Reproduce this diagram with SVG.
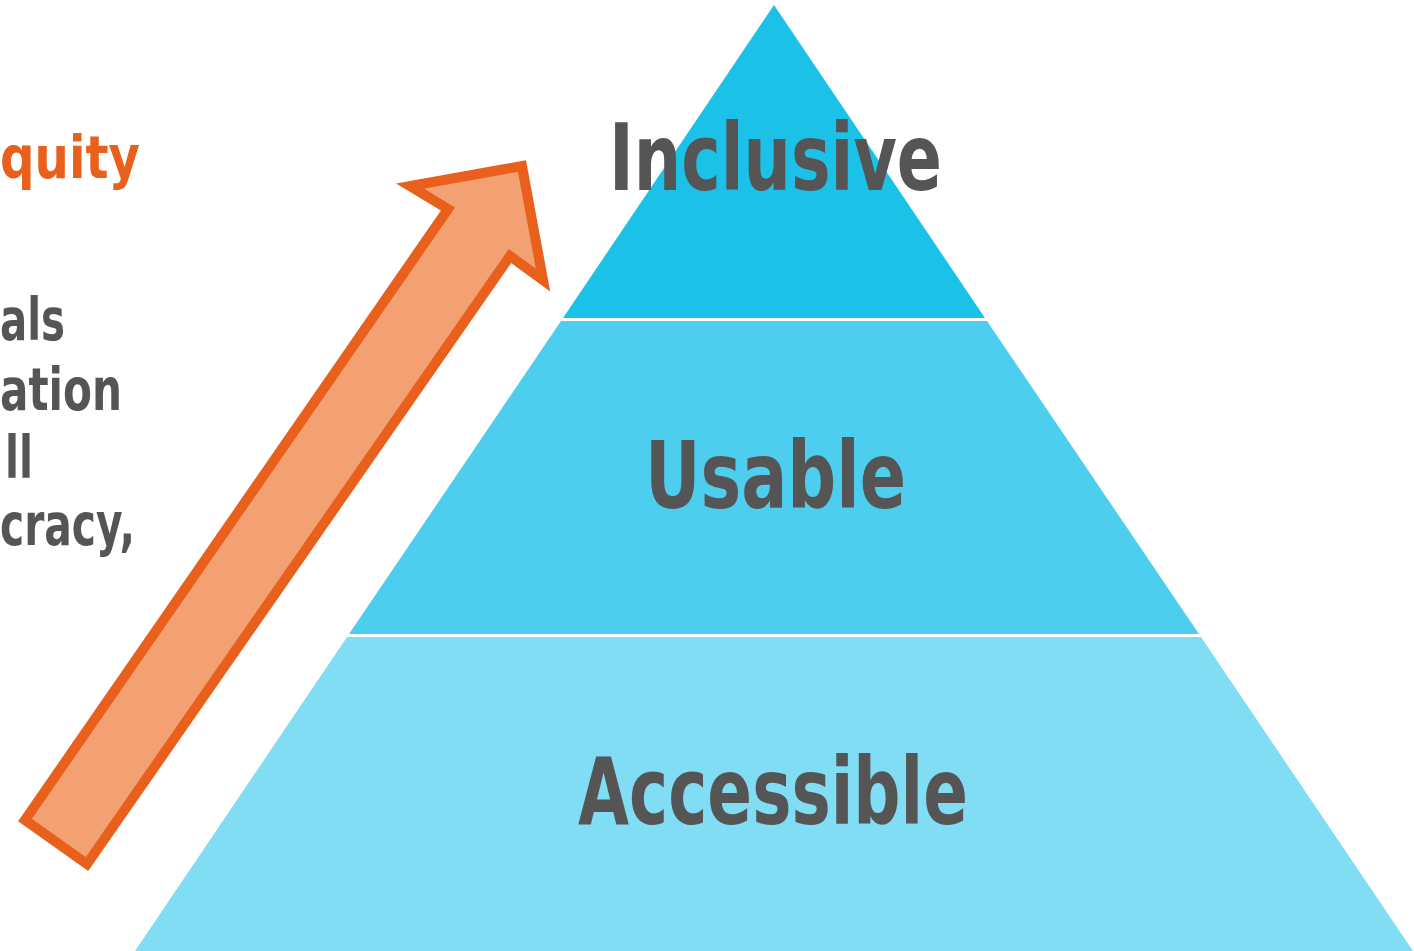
<svg xmlns="http://www.w3.org/2000/svg" width="1414" height="951" viewBox="0 0 1414 951">
<style>
.lbl{font-family:"DejaVu Sans","Liberation Sans",sans-serif;font-weight:bold;fill:#555555}
.big{font-size:93px}
.side{font-size:58px}
.eq{fill:#E8601C}
</style>
<rect width="1414" height="951" fill="#ffffff"/>
<g id="tier-inclusive">
<polygon points="774,5 985,318 563,318" fill="#1CC1E8"/>
<text class="lbl big" x="609" y="190" textLength="333" lengthAdjust="spacingAndGlyphs">Inclusive</text>
</g>
<g id="tier-usable">
<polygon points="561,321 987,321 1199,634 349,634" fill="#4ECEEE"/>
<text class="lbl big" x="645" y="508" textLength="261" lengthAdjust="spacingAndGlyphs">Usable</text>
</g>
<g id="tier-accessible">
<polygon points="347,637 1201,637 1413,951 135,951" fill="#80DDF4"/>
<text class="lbl big" x="578" y="824" textLength="390" lengthAdjust="spacingAndGlyphs">Accessible</text>
</g>
<g id="left-text">
<text class="lbl side eq" x="0" y="178" textLength="140" lengthAdjust="spacingAndGlyphs">quity</text>
<text class="lbl side" x="0" y="340" textLength="65" lengthAdjust="spacingAndGlyphs">als</text>
<text class="lbl side" x="0" y="410" textLength="122" lengthAdjust="spacingAndGlyphs">ation</text>
<text class="lbl side" x="5" y="478" textLength="28" lengthAdjust="spacingAndGlyphs">ll</text>
<text class="lbl side" x="0" y="545" textLength="135" lengthAdjust="spacingAndGlyphs">cracy,</text>
</g>
<g id="connectors">
<polygon points="25,820 448,209 410,186 522,166 543,280 510,256 87,864" fill="#F3A072" stroke="#E8601C" stroke-width="10" stroke-linejoin="miter" stroke-miterlimit="10"/>
</g>
</svg>
